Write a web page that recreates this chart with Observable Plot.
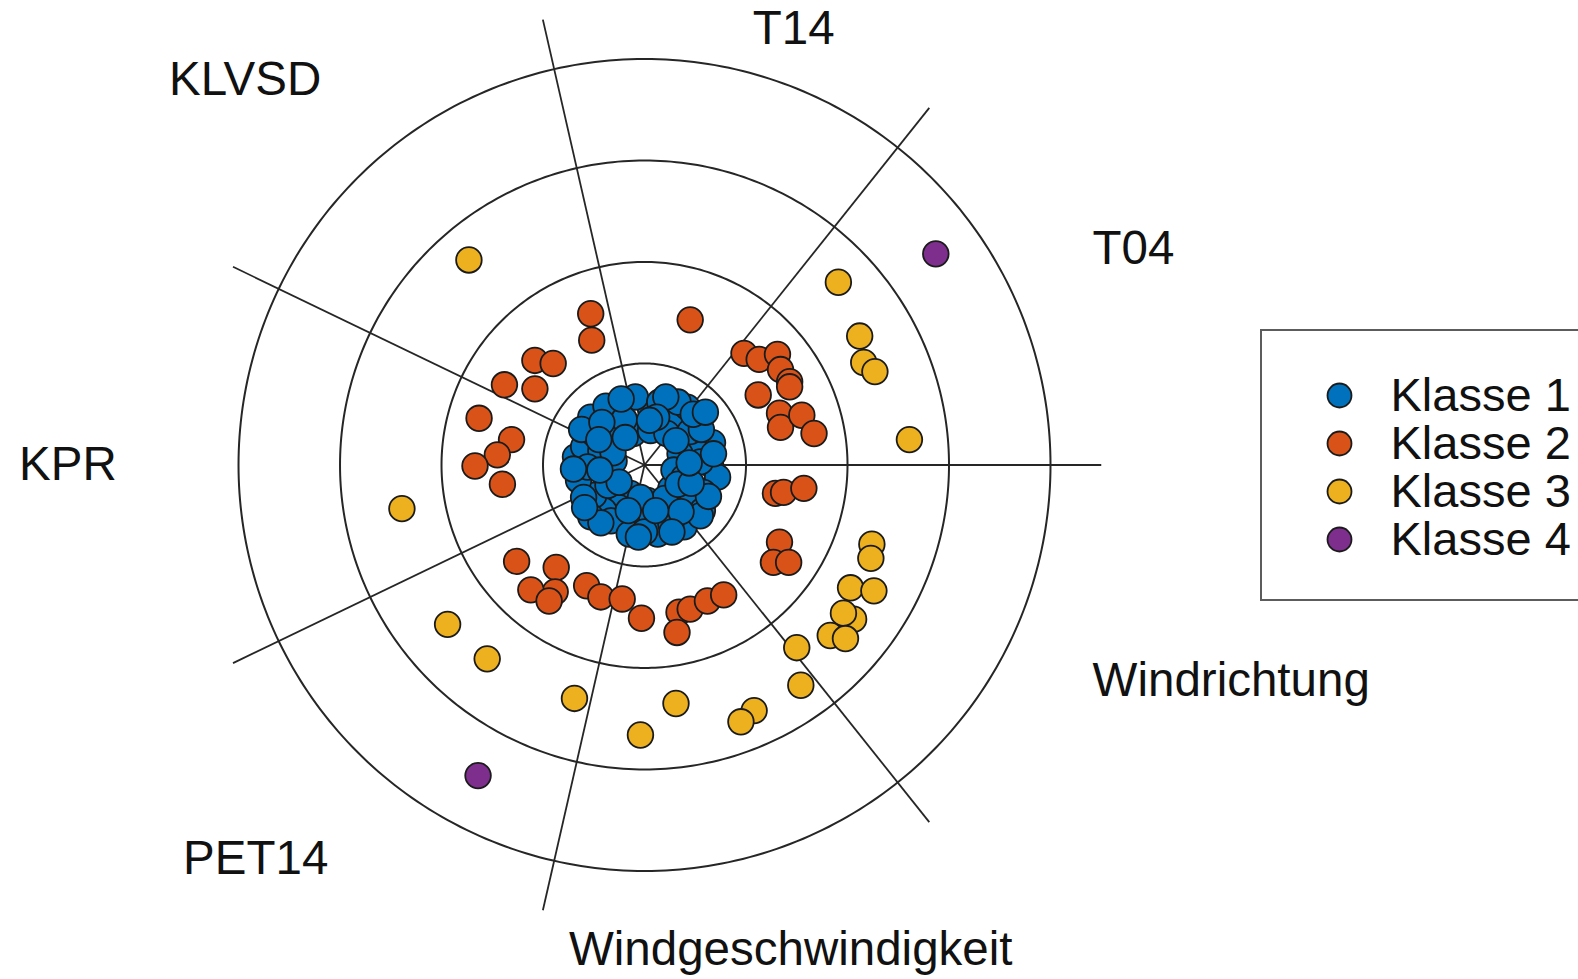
<!DOCTYPE html>
<html>
<head>
<meta charset="utf-8">
<script src="https://cdn.jsdelivr.net/npm/d3@7"></script>
<script src="https://cdn.jsdelivr.net/npm/@observablehq/plot@0.6"></script>
<style>
  html, body { margin: 0; padding: 0; background: #fff; overflow: hidden; }
  #chart { position: relative; width: 1578px; height: 979px; }
  #legend {
    position: absolute; left: 1260px; top: 329px;
    width: 340px; height: 268px;
    border: 2px solid #5c5c5c; background: #fff;
  }
  svg { display: block; }
</style>
</head>
<body>
<div id="chart"><div id="legend"></div></div>
<script>
// Variables arranged clockwise around the radial plot, starting at the top
const axes = ["T14", "T04", "Windrichtung", "Windgeschwindigkeit", "PET14", "KPR", "KLVSD"];
const classes = ["Klasse 1", "Klasse 2", "Klasse 3", "Klasse 4"];
const classColors = ["#0072BD", "#D95319", "#EDB120", "#7E2F8E"];
const rings = [1, 2, 3, 4];
const spokeLength = 4.5;

// Point positions in ring units (x to the right, y upwards)
const klasse1 = [
  [-0.25, 0.54], [0.06, 0.55], [-0.09, 0.67], [0.27, 0.47], [0.42, 0.57], [0.52, 0.41],
  [0.67, 0.22], [0.49, 0.16], [0.65, 0.01], [0.72, -0.12], [0.58, -0.27], [0.42, -0.35],
  [0.57, -0.45], [0.26, -0.23], [0.22, -0.45], [0.09, -0.56], [0.03, -0.35], [-0.14, -0.28],
  [-0.25, -0.42], [-0.40, -0.45], [-0.50, -0.30], [-0.65, -0.15], [-0.68, 0.08], [-0.60, 0.18],
  [-0.43, 0.14], [-0.50, 0.31], [-0.30, 0.31], [-0.30, 0.04], [-0.11, 0.31], [0.06, 0.34],
  [0.22, 0.31], [0.35, 0.11], [0.29, -0.05], [0.39, -0.12], [-0.04, -0.51], [0.13, -0.68],
  [0.39, -0.61], [0.26, -0.58], [-0.17, -0.58], [-0.33, -0.55], [-0.53, 0.47], [-0.56, -0.02],
  [0.15, 0.62], [-0.38, 0.58], [0.55, 0.03], [-0.15, -0.68], [0.00, -0.66], [0.55, -0.50],
  [-0.53, -0.51], [-0.60, -0.32], [0.33, 0.62], [-0.36, -0.20], [0.20, -0.33], [-0.20, 0.45],
  [0.45, 0.33], [0.56, 0.35], [-0.62, 0.35], [-0.70, -0.04], [-0.43, -0.57], [0.63, -0.31],
  [0.68, 0.11], [0.48, 0.50], [0.21, 0.67], [-0.23, 0.65], [-0.06, -0.71], [0.31, 0.24],
  [0.33, -0.19], [-0.04, -0.32], [-0.25, -0.17], [-0.31, 0.12], [-0.19, 0.27], [0.12, 0.47],
  [-0.42, 0.42], [0.46, -0.18], [0.36, -0.46], [-0.44, -0.05], [0.11, -0.45], [-0.16, -0.45],
  [0.44, 0.02], [-0.45, 0.25], [0.05, 0.44], [0.60, 0.52], [-0.59, -0.42], [0.27, -0.66]
];
const klasse2 = [
  [-0.53, 1.49], [-0.52, 1.23], [-1.08, 1.03], [-0.90, 1.00], [-1.38, 0.79], [-1.08, 0.75],
  [-1.63, 0.46], [-1.31, 0.25], [-1.45, 0.10], [-1.67, -0.01], [-1.40, -0.19],
  [0.45, 1.43], [0.98, 1.10], [1.13, 1.04], [1.31, 1.09], [1.34, 0.94], [1.43, 0.82],
  [1.43, 0.77], [1.12, 0.69], [1.33, 0.51], [1.34, 0.37], [1.55, 0.49], [1.67, 0.31],
  [1.29, -0.28], [1.37, -0.27], [1.57, -0.23], [1.33, -0.76], [1.27, -0.96], [1.42, -0.96],
  [-1.26, -0.95], [-0.87, -1.01], [-0.88, -1.25], [-1.12, -1.23], [-0.94, -1.34], [-0.57, -1.19],
  [-0.43, -1.30], [-0.22, -1.32], [-0.03, -1.51], [0.34, -1.45], [0.45, -1.42], [0.62, -1.34],
  [0.78, -1.28], [0.32, -1.65]
];
const klasse3 = [
  [1.91, 1.80], [2.12, 1.27], [2.16, 1.01], [2.27, 0.92], [2.61, 0.25], [2.24, -0.78],
  [2.23, -0.92], [2.03, -1.21], [2.26, -1.24], [2.06, -1.52], [1.96, -1.46], [1.83, -1.68],
  [1.98, -1.71], [1.50, -1.80], [1.54, -2.17], [1.08, -2.42], [0.95, -2.53], [0.31, -2.35],
  [-0.04, -2.66], [-0.69, -2.30], [-1.55, -1.91], [-1.94, -1.57], [-2.39, -0.43], [-1.73, 2.02]
];
const klasse4 = [
  [2.87, 2.08], [-1.64, -3.06]
];

const points = [klasse1, klasse2, klasse3, klasse4].flatMap((pts, i) =>
  pts.map(([x, y]) => ({x, y, cls: classes[i]}))
);

// Angles measured clockwise from the top; one spoke lies on the horizontal
const step = 360 / axes.length;
const offset = step / 4;
const rad = (deg) => deg * Math.PI / 180;
const polar = (deg, r) => [r * Math.sin(rad(deg)), r * Math.cos(rad(deg))];

const ringPoints = rings.flatMap((r) =>
  d3.range(0, 361, 1).map((a) => {
    const [x, y] = polar(a, r);
    return {ring: r, x, y};
  })
);

// Sector boundaries between neighbouring variables
const spokes = axes.map((_, i) => {
  const [x, y] = polar(i * step - offset, spokeLength);
  return {x, y};
});

// Variable names sit in the middle of their sectors, just outside the outer ring
const labelRadius = 4.9;
const labelShift = {
  "T14": [0.38, -0.48],
  "Windgeschwindigkeit": [0.35, 0],
  "KPR": [-0.3, 0],
  "KLVSD": [-0.13, -0.04],
  "PET14": [-0.06, -0.05]
};
const labels = axes.map((name, i) => {
  const a = i * step + offset;
  const [x, y] = polar(a, labelRadius);
  const [sx, sy] = labelShift[name] || [0, 0];
  const s = Math.sin(rad(a));
  const anchor = s > 0.5 ? "start" : s < -0.5 ? "end" : "middle";
  return {name, x: x + sx, y: y + sy, anchor};
});

const font = "'Liberation Sans', Arial, Helvetica, sans-serif";
const textMark = (anchor) => Plot.text(labels.filter((d) => d.anchor === anchor), {
  x: "x", y: "y", text: "name", textAnchor: anchor, lineAnchor: "middle",
  fontSize: 47.5, fontFamily: font, fill: "#111"
});

const chart = Plot.plot({
  width: 1578,
  height: 979,
  margin: 0,
  x: {domain: [-6.345, 9.202], range: [0, 1578], axis: null},
  y: {domain: [-5.069, 4.576], range: [979, 0], axis: null},
  color: {domain: classes, range: classColors},
  marks: [
    Plot.line(ringPoints, {x: "x", y: "y", z: "ring", stroke: "#262626", strokeWidth: 2}),
    Plot.link(spokes, {x1: () => 0, y1: () => 0, x2: "x", y2: "y", stroke: "#262626", strokeWidth: 1.8}),
    Plot.dot(points, {x: "x", y: "y", fill: "cls", r: 12.8, stroke: "#1b1b1b", strokeWidth: 1.8}),
    textMark("start"),
    textMark("end"),
    textMark("middle")
  ]
});
document.getElementById("chart").prepend(chart);

// Legend: one marker and name per class
const legend = Plot.plot({
  width: 340,
  height: 268,
  margin: 0,
  x: {domain: [0, 1], axis: null},
  y: {type: "point", domain: classes, range: [39, 232], axis: null},
  color: {domain: classes, range: classColors},
  marks: [
    Plot.dot(classes, {y: (d) => d, fill: (d) => d, r: 12, stroke: "#1b1b1b", strokeWidth: 1.8, frameAnchor: "left", dx: 77}),
    Plot.text(classes, {y: (d) => d, text: (d) => d, frameAnchor: "left", dx: 128, textAnchor: "start",
      lineAnchor: "middle", fontSize: 47, fontFamily: font, fill: "#111"})
  ]
});
document.getElementById("legend").append(legend);
</script>
</body>
</html>
